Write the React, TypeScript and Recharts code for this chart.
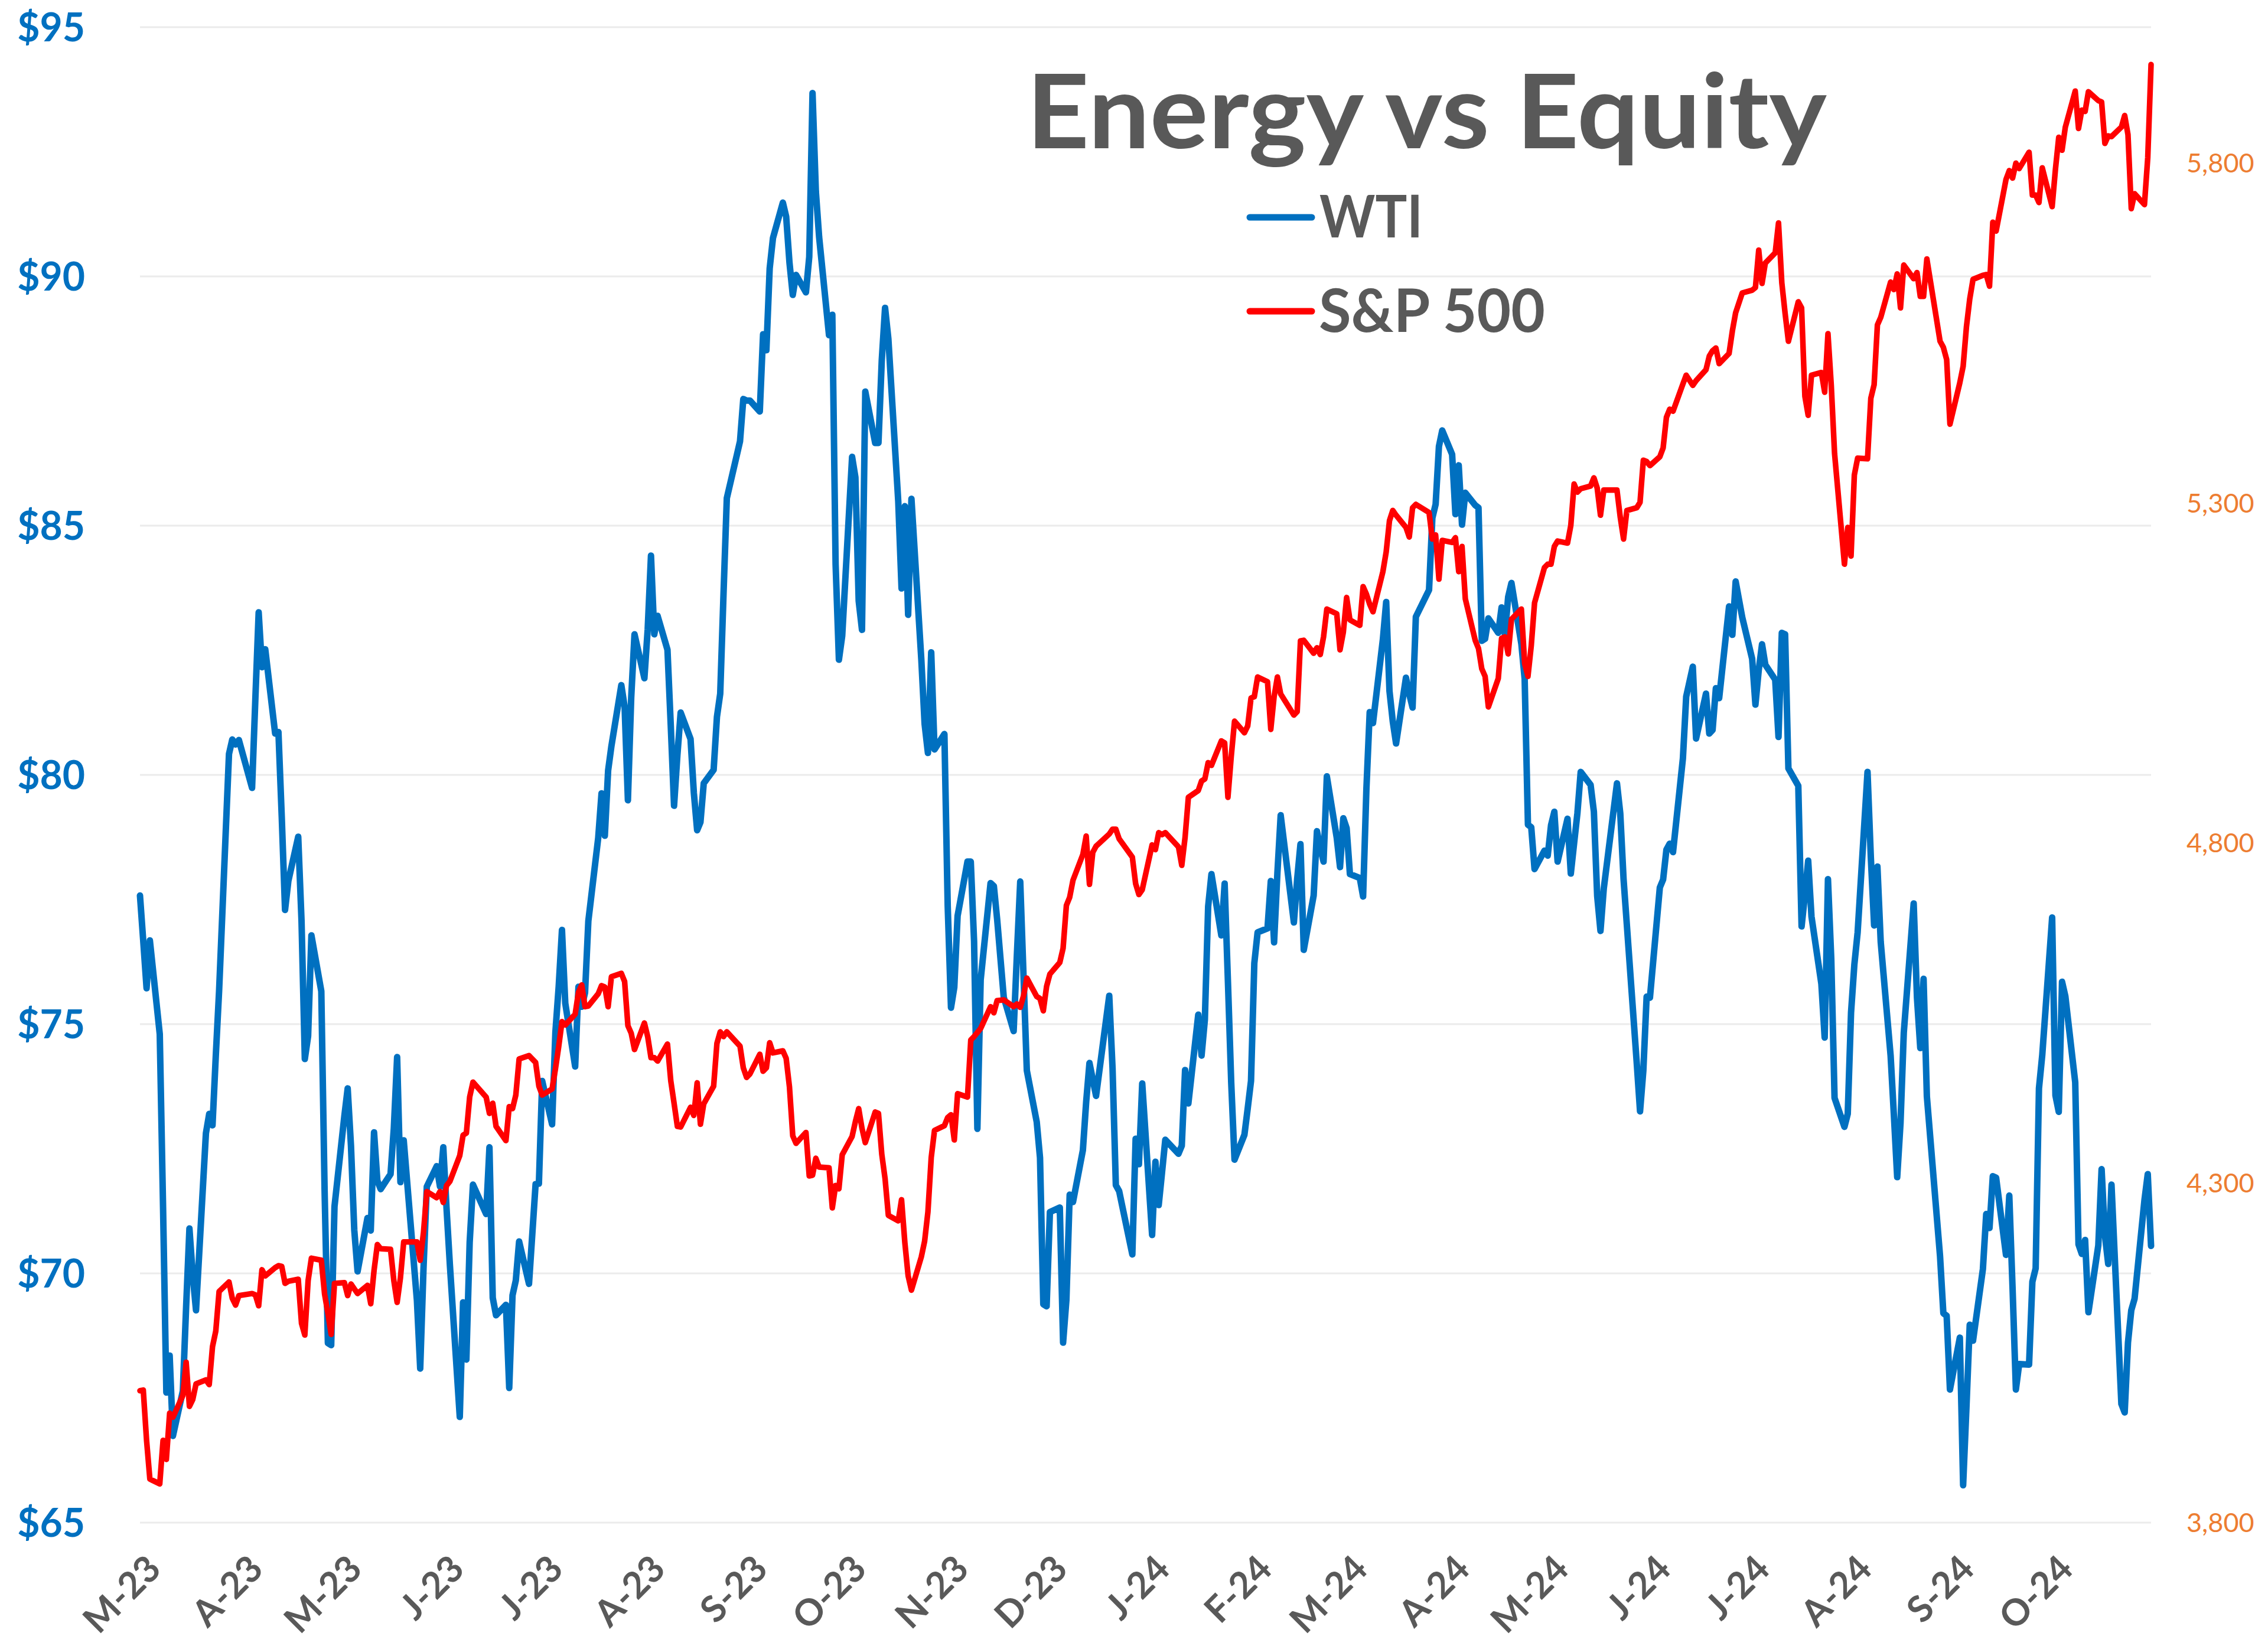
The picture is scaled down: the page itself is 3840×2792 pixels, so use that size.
import React from 'react';
import { LineChart, Line, XAxis, YAxis, CartesianGrid } from 'recharts';

// Trading dates (front-month closes), Mar 2023 - Nov 2024
const dates: string[] = [
  // 2023-03
  '2023-03-07','2023-03-08','2023-03-09','2023-03-10','2023-03-13','2023-03-14','2023-03-15','2023-03-16','2023-03-17','2023-03-20','2023-03-21','2023-03-22','2023-03-23','2023-03-24','2023-03-27','2023-03-28','2023-03-29','2023-03-30','2023-03-31',
  // 2023-04
  '2023-04-03','2023-04-04','2023-04-05','2023-04-06','2023-04-10','2023-04-11','2023-04-12','2023-04-13','2023-04-14','2023-04-17','2023-04-18','2023-04-19','2023-04-20','2023-04-21','2023-04-24','2023-04-25','2023-04-26','2023-04-27','2023-04-28',
  // 2023-05
  '2023-05-01','2023-05-02','2023-05-03','2023-05-04','2023-05-05','2023-05-08','2023-05-09','2023-05-10','2023-05-11','2023-05-12','2023-05-15','2023-05-16','2023-05-17','2023-05-18','2023-05-19','2023-05-22','2023-05-23','2023-05-24','2023-05-25','2023-05-26','2023-05-30','2023-05-31',
  // 2023-06
  '2023-06-01','2023-06-02','2023-06-05','2023-06-06','2023-06-07','2023-06-08','2023-06-09','2023-06-12','2023-06-13','2023-06-14','2023-06-15','2023-06-16','2023-06-20','2023-06-21','2023-06-22','2023-06-23','2023-06-26','2023-06-27','2023-06-28','2023-06-29','2023-06-30',
  // 2023-07
  '2023-07-03','2023-07-05','2023-07-06','2023-07-07','2023-07-10','2023-07-11','2023-07-12','2023-07-13','2023-07-14','2023-07-17','2023-07-18','2023-07-19','2023-07-20','2023-07-21','2023-07-24','2023-07-25','2023-07-26','2023-07-27','2023-07-28','2023-07-31',
  // 2023-08
  '2023-08-01','2023-08-02','2023-08-03','2023-08-04','2023-08-07','2023-08-08','2023-08-09','2023-08-10','2023-08-11','2023-08-14','2023-08-15','2023-08-16','2023-08-17','2023-08-18','2023-08-21','2023-08-22','2023-08-23','2023-08-24','2023-08-25','2023-08-28','2023-08-29','2023-08-30','2023-08-31',
  // 2023-09
  '2023-09-01','2023-09-05','2023-09-06','2023-09-07','2023-09-08','2023-09-11','2023-09-12','2023-09-13','2023-09-14','2023-09-15','2023-09-18','2023-09-19','2023-09-20','2023-09-21','2023-09-22','2023-09-25','2023-09-26','2023-09-27','2023-09-28','2023-09-29',
  // 2023-10
  '2023-10-02','2023-10-03','2023-10-04','2023-10-05','2023-10-06','2023-10-09','2023-10-10','2023-10-11','2023-10-12','2023-10-13','2023-10-16','2023-10-17','2023-10-18','2023-10-19','2023-10-20','2023-10-23','2023-10-24','2023-10-25','2023-10-26','2023-10-27','2023-10-30','2023-10-31',
  // 2023-11
  '2023-11-01','2023-11-02','2023-11-03','2023-11-06','2023-11-07','2023-11-08','2023-11-09','2023-11-10','2023-11-13','2023-11-14','2023-11-15','2023-11-16','2023-11-17','2023-11-20','2023-11-21','2023-11-22','2023-11-24','2023-11-27','2023-11-28','2023-11-29','2023-11-30',
  // 2023-12
  '2023-12-01','2023-12-04','2023-12-05','2023-12-06','2023-12-07','2023-12-08','2023-12-11','2023-12-12','2023-12-13','2023-12-14','2023-12-15','2023-12-18','2023-12-19','2023-12-20','2023-12-21','2023-12-22','2023-12-26','2023-12-27','2023-12-28','2023-12-29',
  // 2024-01
  '2024-01-02','2024-01-03','2024-01-04','2024-01-05','2024-01-08','2024-01-09','2024-01-10','2024-01-11','2024-01-12','2024-01-16','2024-01-17','2024-01-18','2024-01-19','2024-01-22','2024-01-23','2024-01-24','2024-01-25','2024-01-26','2024-01-29','2024-01-30','2024-01-31',
  // 2024-02
  '2024-02-01','2024-02-02','2024-02-05','2024-02-06','2024-02-07','2024-02-08','2024-02-09','2024-02-12','2024-02-13','2024-02-14','2024-02-15','2024-02-16','2024-02-20','2024-02-21','2024-02-22','2024-02-23','2024-02-26','2024-02-27','2024-02-28','2024-02-29',
  // 2024-03
  '2024-03-01','2024-03-04','2024-03-05','2024-03-06','2024-03-07','2024-03-08','2024-03-11','2024-03-12','2024-03-13','2024-03-14','2024-03-15','2024-03-18','2024-03-19','2024-03-20','2024-03-21','2024-03-22','2024-03-25','2024-03-26','2024-03-27','2024-03-28',
  // 2024-04
  '2024-04-01','2024-04-02','2024-04-03','2024-04-04','2024-04-05','2024-04-08','2024-04-09','2024-04-10','2024-04-11','2024-04-12','2024-04-15','2024-04-16','2024-04-17','2024-04-18','2024-04-19','2024-04-22','2024-04-23','2024-04-24','2024-04-25','2024-04-26','2024-04-29','2024-04-30',
  // 2024-05
  '2024-05-01','2024-05-02','2024-05-03','2024-05-06','2024-05-07','2024-05-08','2024-05-09','2024-05-10','2024-05-13','2024-05-14','2024-05-15','2024-05-16','2024-05-17','2024-05-20','2024-05-21','2024-05-22','2024-05-23','2024-05-24','2024-05-28','2024-05-29','2024-05-30','2024-05-31',
  // 2024-06
  '2024-06-03','2024-06-04','2024-06-05','2024-06-06','2024-06-07','2024-06-10','2024-06-11','2024-06-12','2024-06-13','2024-06-14','2024-06-17','2024-06-18','2024-06-20','2024-06-21','2024-06-24','2024-06-25','2024-06-26','2024-06-27','2024-06-28',
  // 2024-07
  '2024-07-01','2024-07-02','2024-07-03','2024-07-05','2024-07-08','2024-07-09','2024-07-10','2024-07-11','2024-07-12','2024-07-15','2024-07-16','2024-07-17','2024-07-18','2024-07-19','2024-07-22','2024-07-23','2024-07-24','2024-07-25','2024-07-26','2024-07-29','2024-07-30','2024-07-31',
  // 2024-08
  '2024-08-01','2024-08-02','2024-08-05','2024-08-06','2024-08-07','2024-08-08','2024-08-09','2024-08-12','2024-08-13','2024-08-14','2024-08-15','2024-08-16','2024-08-19','2024-08-20','2024-08-21','2024-08-22','2024-08-23','2024-08-26','2024-08-27','2024-08-28','2024-08-29','2024-08-30',
  // 2024-09
  '2024-09-03','2024-09-04','2024-09-05','2024-09-06','2024-09-09','2024-09-10','2024-09-11','2024-09-12','2024-09-13','2024-09-16','2024-09-17','2024-09-18','2024-09-19','2024-09-20','2024-09-23','2024-09-24','2024-09-25','2024-09-26','2024-09-27','2024-09-30',
  // 2024-10
  '2024-10-01','2024-10-02','2024-10-03','2024-10-04','2024-10-07','2024-10-08','2024-10-09','2024-10-10','2024-10-11','2024-10-14','2024-10-15','2024-10-16','2024-10-17','2024-10-18','2024-10-21','2024-10-22','2024-10-23','2024-10-24','2024-10-25','2024-10-28','2024-10-29','2024-10-30','2024-10-31',
  // 2024-11
  '2024-11-01','2024-11-04','2024-11-05','2024-11-06',
];

// WTI ($ per barrel), left axis
const wti: number[] = [
  77.58,76.66,75.72,76.68,74.80,71.33,67.61,68.35,66.74,67.64,69.33,70.90,69.96,69.26,72.81,73.20,72.97,74.37,75.67,
  80.42,80.71,80.61,80.70,79.74,81.53,83.26,82.16,82.52,80.83,80.86,79.16,77.29,77.87,78.76,77.07,74.30,74.76,76.78,
  75.66,71.66,68.60,68.56,71.34,73.16,73.71,72.56,70.87,70.04,71.11,70.86,72.83,71.86,71.69,71.99,72.91,74.34,71.83,72.67,69.46,68.09,
  70.10,71.74,72.15,71.74,72.53,71.29,70.17,67.12,69.42,68.27,70.62,71.78,71.19,72.53,69.51,69.16,69.37,67.70,69.56,69.86,70.64,
  69.79,71.79,71.80,73.86,72.99,74.83,75.75,76.89,75.42,74.15,75.75,75.35,75.63,77.07,78.74,79.63,78.78,80.09,80.58,81.80,
  81.37,79.49,81.55,82.82,81.94,82.92,84.40,82.82,83.19,82.51,80.99,79.38,80.39,81.25,80.72,79.64,78.89,79.05,79.83,80.10,81.16,81.63,83.63,
  85.55,86.69,87.54,87.51,87.51,87.29,88.84,88.52,90.16,90.77,91.48,91.20,90.28,89.63,90.03,89.68,90.39,93.68,91.71,90.79,
  88.82,89.23,84.22,82.31,82.79,86.38,85.97,83.49,82.91,87.69,86.66,86.66,88.32,89.37,88.75,85.49,83.74,85.39,83.21,85.54,82.31,81.02,
  80.44,82.46,80.51,80.82,77.37,75.33,75.74,77.17,78.26,78.26,76.66,72.90,75.89,77.83,77.77,77.10,75.54,74.86,76.41,77.86,75.96,
  74.07,73.04,72.32,69.38,69.34,71.23,71.32,68.61,69.47,71.58,71.43,72.47,73.44,74.22,73.89,73.56,75.57,74.11,71.77,71.65,
  70.38,72.70,72.19,73.81,70.77,72.24,71.37,72.02,72.68,72.40,72.56,74.08,73.41,75.19,74.37,75.09,77.36,78.01,76.78,77.82,75.85,
  73.82,72.28,72.78,73.31,73.86,76.22,76.84,76.92,77.87,76.64,78.03,79.19,77.04,77.91,78.61,76.49,77.58,78.87,78.54,78.26,
  79.97,78.74,78.15,79.13,78.93,78.01,77.93,77.56,79.72,81.26,81.04,82.72,83.47,81.68,81.07,80.63,81.95,81.62,81.35,83.17,
  83.71,85.15,85.43,86.59,86.91,86.43,85.23,86.21,85.02,85.66,85.41,85.36,82.69,82.73,83.14,82.85,83.36,82.81,83.57,83.85,82.63,81.93,
  79.00,78.95,78.11,78.48,78.38,78.99,79.26,78.26,79.12,78.02,78.63,79.23,80.06,79.80,79.26,77.57,76.87,77.72,79.83,79.23,77.91,76.99,
  74.22,73.25,74.07,75.55,75.53,77.74,77.90,78.50,78.62,78.45,80.33,81.57,82.17,80.73,81.63,80.83,80.90,81.74,81.54,
  83.38,82.81,83.88,83.16,82.33,81.41,82.10,82.62,82.21,81.91,80.76,82.85,82.82,80.13,79.78,76.96,77.59,78.28,77.16,75.81,74.73,77.91,
  76.31,73.52,72.94,73.20,75.23,76.19,76.84,80.06,78.35,76.98,78.16,76.65,74.37,73.17,71.93,73.01,74.83,77.42,75.53,74.52,75.91,73.55,
  70.34,69.20,69.15,67.67,68.71,65.75,67.31,68.97,68.65,70.09,71.19,70.91,71.95,71.92,70.37,71.56,69.69,67.67,68.18,68.17,
  69.83,70.10,73.71,74.38,77.14,73.57,73.24,75.85,75.56,73.83,70.58,70.39,70.67,69.22,70.56,72.09,70.77,70.19,71.78,67.38,67.21,68.61,69.26,
  69.49,71.47,71.99,70.55,
];

// S&P 500 (front-month futures level), right axis
const spx: number[] = [
  3994,3995,3921,3864,3857,3921,3893,3961,3955,3987,4036,3971,3981,4004,4010,4003,4059,4082,4140,
  4154,4130,4120,4134,4137,4135,4119,4172,4163,4175,4178,4177,4152,4155,4158,4093,4076,4156,4189,
  4186,4136,4108,4077,4152,4153,4134,4151,4144,4137,4149,4122,4171,4209,4203,4202,4156,4124,4160,4213,4213,4186,
  4227,4287,4278,4287,4271,4296,4302,4340,4370,4373,4426,4448,4426,4402,4417,4383,4362,4412,4409,4429,4482,
  4487,4477,4442,4429,4438,4467,4500,4537,4532,4548,4580,4591,4559,4560,4578,4590,4588,4559,4603,4608,
  4596,4531,4520,4496,4535,4515,4484,4484,4479,4504,4450,4417,4383,4382,4411,4399,4447,4386,4416,4442,4505,4522,4515,
  4522,4501,4469,4455,4460,4489,4464,4469,4506,4491,4494,4483,4441,4369,4358,4374,4310,4311,4336,4323,
  4322,4263,4296,4291,4341,4368,4390,4409,4380,4359,4404,4402,4342,4306,4252,4244,4275,4212,4163,4142,4191,4214,
  4257,4337,4377,4384,4396,4400,4363,4431,4426,4510,4515,4521,4527,4559,4550,4568,4569,4559,4563,4558,4575,
  4601,4574,4571,4553,4589,4607,4624,4645,4708,4720,4745,4783,4810,4739,4786,4795,4813,4820,4820,4806,
  4779,4740,4724,4731,4797,4790,4815,4812,4815,4794,4767,4808,4867,4877,4891,4894,4918,4914,4950,4947,4867,
  4927,4979,4962,4972,5013,5015,5044,5037,4967,5015,5044,5019,4988,4993,5097,5098,5079,5087,5077,5103,
  5144,5137,5084,5110,5161,5128,5120,5177,5166,5151,5140,5199,5228,5274,5289,5282,5264,5250,5293,5298,
  5286,5247,5253,5188,5245,5242,5249,5199,5236,5159,5098,5086,5056,5045,5000,5042,5101,5103,5078,5129,5144,5064,
  5045,5090,5153,5205,5210,5210,5236,5244,5241,5267,5328,5316,5321,5325,5337,5322,5282,5319,5319,5279,5247,5289,
  5293,5301,5363,5361,5355,5368,5381,5426,5438,5435,5475,5488,5473,5480,5496,5516,5524,5528,5505,
  5520,5553,5580,5609,5613,5617,5672,5623,5653,5668,5712,5624,5579,5538,5596,5587,5457,5429,5488,5492,5463,5549,
  5473,5373,5210,5264,5222,5341,5366,5365,5454,5474,5562,5573,5625,5614,5637,5587,5650,5630,5639,5604,5604,5659,
  5538,5529,5511,5416,5477,5501,5559,5600,5629,5635,5636,5619,5713,5700,5776,5789,5778,5800,5792,5816,
  5753,5753,5742,5793,5736,5791,5838,5819,5853,5906,5851,5878,5876,5905,5892,5890,5829,5840,5839,5853,5870,5842,5733,
  5755,5739,5808,5945,
];

const tickDates: string[] = [
  '2023-03-07','2023-04-07','2023-05-07','2023-06-07','2023-07-07','2023-08-07','2023-09-07','2023-10-07','2023-11-07','2023-12-07',
  '2024-01-07','2024-02-07','2024-03-07','2024-04-07','2024-05-07','2024-06-07','2024-07-07','2024-08-07','2024-09-07','2024-10-07',
];
const tickLabels: string[] = [
  'M-23','A-23','M-23','J-23','J-23','A-23','S-23','O-23','N-23','D-23',
  'J-24','F-24','M-24','A-24','M-24','J-24','J-24','A-24','S-24','O-24',
];
const leftTicks: number[] = [65, 70, 75, 80, 85, 90, 95];
const rightTicks: number[] = [3800, 4300, 4800, 5300, 5800];
const seriesNames: string[] = ['WTI', 'S&P 500'];
const titleText = 'Energy vs Equity';

const W = 3840;
const H = 2792;
const FONT = 'Lato, "Open Sans", "DejaVu Sans", sans-serif';
const BLUE = '#0070C0';
const RED = '#FF0000';
const ORANGE = '#ED7D31';
const GRAY_TEXT = '#595959';

const toDay = (s: string) => Date.parse(s + 'T00:00:00Z') / 86400000;
const data = dates.map((d, i) => ({ t: toDay(d), wti: wti[i], spx: spx[i] }));
const tickValues = tickDates.map(toDay);
const labelByTick = new Map<number, string>(tickValues.map((v, i) => [v, tickLabels[i]]));
const tMin = toDay(dates[0]);
const tMax = toDay(dates[dates.length - 1]);

const XTick = (props: any) => {
  const { x, payload } = props;
  const ax = x + 39;
  const ay = 2660;
  return (
    <text
      x={ax}
      y={ay}
      transform={`rotate(-45 ${ax} ${ay})`}
      textAnchor="end"
      fontFamily={FONT}
      fontWeight={700}
      fontSize={62}
      fill={GRAY_TEXT}
    >
      {labelByTick.get(payload.value)}
    </text>
  );
};

const LeftTick = (props: any) => (
  <text
    x={144}
    y={props.y}
    dy="0.36em"
    textAnchor="end"
    fontFamily={FONT}
    fontWeight={700}
    fontSize={66}
    fill={BLUE}
  >
    {'$' + props.payload.value}
  </text>
);

const RightTick = (props: any) => (
  <text
    x={3702}
    y={props.y}
    dy="0.36em"
    textAnchor="start"
    fontFamily={FONT}
    fontSize={45}
    fill={ORANGE}
  >
    {Number(props.payload.value).toLocaleString('en-US')}
  </text>
);

export default function App() {
  return (
    <div style={{ position: 'absolute', left: 0, top: 0, width: W, height: H, background: '#ffffff' }}>
      <LineChart width={W} height={H} data={data} margin={{ top: 46, right: 0, bottom: 0, left: 0 }}>
        <CartesianGrid yAxisId="left" vertical={false} stroke="#EBEBEB" strokeWidth={3} />
        <XAxis
          dataKey="t"
          type="number"
          domain={[tMin, tMax]}
          ticks={tickValues}
          interval={0}
          height={214}
          tick={<XTick />}
          tickLine={false}
          axisLine={false}
        />
        <YAxis
          yAxisId="left"
          domain={[65, 95]}
          ticks={leftTicks}
          interval={0}
          width={237}
          tick={<LeftTick />}
          tickLine={false}
          axisLine={false}
        />
        <YAxis
          yAxisId="right"
          orientation="right"
          domain={[3800, 6000]}
          ticks={rightTicks}
          interval={0}
          width={198}
          tick={<RightTick />}
          tickLine={false}
          axisLine={false}
        />
        <Line
          yAxisId="left"
          type="linear"
          dataKey="wti"
          name={seriesNames[0]}
          stroke={BLUE}
          strokeWidth={11}
          strokeLinejoin="round"
          strokeLinecap="round"
          dot={false}
          isAnimationActive={false}
        />
        <Line
          yAxisId="right"
          type="linear"
          dataKey="spx"
          name={seriesNames[1]}
          stroke={RED}
          strokeWidth={9.5}
          strokeLinejoin="round"
          strokeLinecap="round"
          dot={false}
          isAnimationActive={false}
        />
      </LineChart>
      <svg width={W} height={H} style={{ position: 'absolute', left: 0, top: 0, pointerEvents: 'none' }}>
        <text
          x={1738}
          y={251}
          fontFamily={FONT}
          fontWeight={700}
          fontSize={174}
          fill={GRAY_TEXT}
          textLength={1355}
          lengthAdjust="spacingAndGlyphs"
        >
          {titleText}
        </text>
        <line x1={2116} x2={2221} y1={368} y2={368} stroke={BLUE} strokeWidth={11} strokeLinecap="round" />
        <text x={2234} y={402} fontFamily={FONT} fontWeight={700} fontSize={100} fill={GRAY_TEXT} textLength={175} lengthAdjust="spacingAndGlyphs">
          {seriesNames[0]}
        </text>
        <line x1={2116} x2={2221} y1={527} y2={527} stroke={RED} strokeWidth={11} strokeLinecap="round" />
        <text x={2233} y={562} fontFamily={FONT} fontWeight={700} fontSize={102} fill={GRAY_TEXT} textLength={383} lengthAdjust="spacingAndGlyphs">
          {seriesNames[1]}
        </text>
      </svg>
    </div>
  );
}
